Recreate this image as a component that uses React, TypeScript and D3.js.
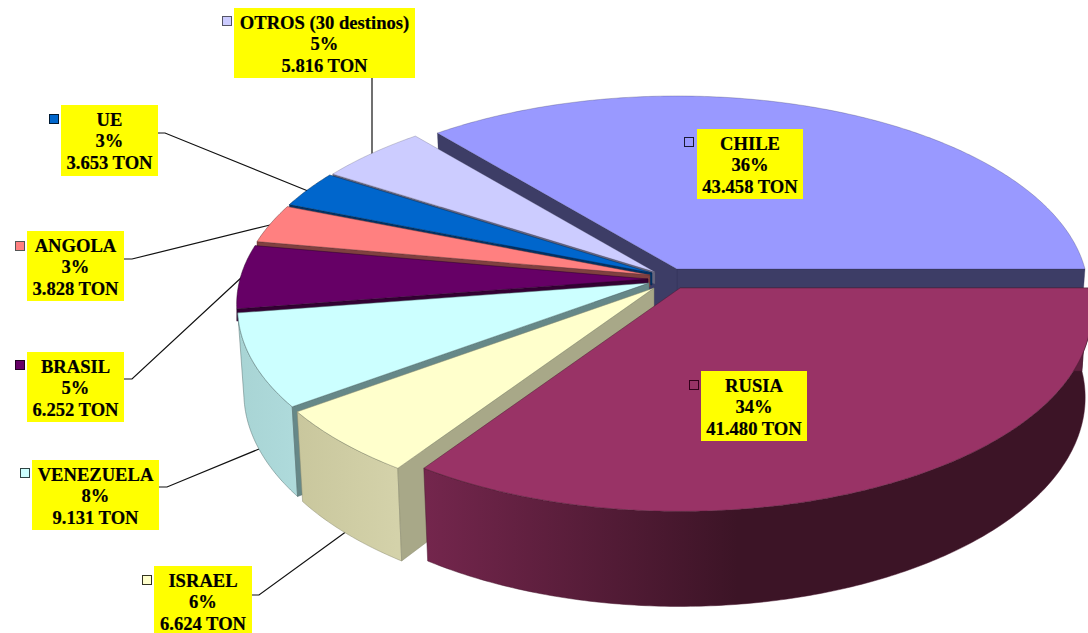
import React from "react";
import * as d3 from "d3";

// ---- data ----
const categories = ["CHILE", "RUSIA", "ISRAEL", "VENEZUELA", "BRASIL", "ANGOLA", "UE", "OTROS (30 destinos)"];
const tons = [43458, 41480, 6624, 9131, 6252, 3828, 3653, 5816];
const tonLabels = ["43.458 TON", "41.480 TON", "6.624 TON", "9.131 TON", "6.252 TON", "3.828 TON", "3.653 TON", "5.816 TON"];
const percentLabels = ["36%", "34%", "6%", "8%", "5%", "3%", "3%", "5%"];
const topColors = ["#9999ff", "#993366", "#ffffcc", "#ccffff", "#660066", "#ff8080", "#0066cc", "#ccccff"];
const edgeColors = ["#3d3d66", "#5c1f3d", "#a8a888", "#668888", "#330033", "#804040", "#003366", "#66667f"];
const wallLeft = ["#3d3d66", "#74264d", "#d4d2aa", "#aedadb", "#330033", "#804040", "#003366", "#66667f"];
const wallRight = ["#3d3d66", "#3c1426", "#c9c79d", "#a8d4d4", "#330033", "#804040", "#003366", "#66667f"];
const keyStroke = ["#1a1a33", "#33001a", "#333322", "#2f4444", "#220022", "#555555", "#001a33", "#555566"];

// ---- layout ----
const W = 1088, H = 633;
const RX = 408, RY = 195, K = 0.127, DEPTH = 83, SHRINK = 0.985;
const apexX = [677, 680, 654, 649, 648, 650, 652, 655];
const apexY = [269, 288, 288, 283, 279, 275, 273, 272];
const wallDepth = [DEPTH, DEPTH, DEPTH, DEPTH, 12, 12, 12, 12];
const boxX = [697, 701, 154, 32, 27, 27, 61, 234];
const boxY = [129, 371, 566, 460, 352, 231, 105, 8];
const boxW = [106, 106, 98, 127, 97, 97, 97, 181];
const boxH = [70, 70, 70, 70, 70, 70, 71, 70];
const keyX = [684, 689, 142, 20, 15, 15, 49, 222];
const keyY = [137, 380, 575, 468, 360, 241, 114, 16];
const hasOuterWall = [false, true, true, true, false, false, false, false];
const leaders: ([number, number][] | null)[] = [
  null,
  null,
  [[252, 595], [259, 595], [347, 531]],
  [[159, 487], [167, 487], [259, 449]],
  [[124, 379], [132, 379], [242, 277]],
  [[124, 259], [132, 259], [270, 225]],
  [[158, 133], [165, 133], [308, 191]],
  [[372, 78], [372, 155]],
];

const pie = d3
  .pie<number>()
  .sort(null)
  .value((d) => d)
  .startAngle(Math.PI / 2 - (2 * Math.PI * tons[0]) / d3.sum(tons))
  .endAngle(Math.PI / 2 + 2 * Math.PI - (2 * Math.PI * tons[0]) / d3.sum(tons));
const arcs = pie(tons);

// perspective projection of a point on the unit disc
const xs = d3.scaleLinear().domain([-1, 1]).range([-RX, RX]);
const ys = d3.scaleLinear().domain([-1, 1]).range([-RY, RY]);
const top = (a: number, i: number): [number, number] => {
  const u = Math.sin(a), v = -Math.cos(a), f = 1 / (1 - K * v);
  return [apexX[i] + xs(u) * f, apexY[i] + ys(v) * f];
};
const bot = (a: number, i: number): [number, number] => {
  const u = Math.sin(a), v = -Math.cos(a), f = 1 / (1 - K * v);
  const s = wallDepth[i] === DEPTH ? SHRINK : 1;
  return [apexX[i] + xs(u) * f * s, apexY[i] + ys(v) * f + wallDepth[i] * f];
};
const line = d3.line<[number, number]>().curve(d3.curveLinear);
const samples = (a0: number, a1: number) => {
  const n = Math.max(2, Math.ceil(Math.abs(a1 - a0) * 90));
  return d3.range(n + 1).map((k) => a0 + ((a1 - a0) * k) / n);
};
const order = [0, 7, 6, 5, 4, 3, 2, 1];

export default function App() {
  return (
    <svg
      width={W}
      height={H}
      viewBox={`0 0 ${W} ${H}`}
      style={{ position: "fixed", left: 0, top: 0, display: "block", background: "#fff" }}
    >
      <defs>
        {arcs.map((d, i) => {
          const pts = samples(d.startAngle, d.endAngle).map((a) => top(a, i)[0]);
          const first = i === 1 ? wallLeft[i] : wallRight[i];
          const last = i === 1 ? wallRight[i] : wallLeft[i];
          return (
            <linearGradient key={i} id={`w${i}`} gradientUnits="userSpaceOnUse" x1={d3.min(pts)} x2={d3.max(pts)} y1={0} y2={0}>
              <stop offset="0" stopColor={first} />
              <stop offset={i === 1 ? 0.47 : 1} stopColor={last} />
            </linearGradient>
          );
        })}
      </defs>
      {leaders.map((l, i) =>
        l ? <path key={i} d={line(l) as string} fill="none" stroke="#111" strokeWidth={1.2} /> : null
      )}
      {order.map((i) => {
        const d = arcs[i];
        const as = samples(d.startAngle, d.endAngle);
        const A: [number, number] = [apexX[i], apexY[i]];
        const Ab: [number, number] = [apexX[i], apexY[i] + wallDepth[i]];
        const topPts = as.map((a) => top(a, i));
        const botPts = as.map((a) => bot(a, i));
        const startWall = [A, topPts[0], botPts[0], Ab] as [number, number][];
        const endWall = [A, topPts[topPts.length - 1], botPts[botPts.length - 1], Ab] as [number, number][];
        const outer = [...topPts, ...botPts.slice().reverse()];
        const edgeStroke = d3.color(edgeColors[i])!.darker(0.6).formatHex();
        return (
          <g key={i} strokeWidth={0.6} strokeLinejoin="round" strokeOpacity={i === 0 || i === 7 ? 0.45 : 0.8}>
            {i === 0 && <path d={(line(endWall) as string) + "Z"} fill={edgeColors[i]} stroke={edgeStroke} />}
            {hasOuterWall[i] && <path d={(line(outer) as string) + "Z"} fill={`url(#w${i})`} stroke={edgeStroke} />}
            <path d={(line(startWall) as string) + "Z"} fill={edgeColors[i]} stroke={edgeStroke} />
            <path d={(line([A, ...topPts]) as string) + "Z"} fill={topColors[i]} stroke={edgeStroke} />
          </g>
        );
      })}
      {categories.map((c, i) => {
        const cx = boxX[i] + boxW[i] / 2;
        const lines = [c, percentLabels[i], tonLabels[i]];
        return (
          <g key={c}>
            <rect x={keyX[i] + 0.5} y={keyY[i] + 0.5} width={9} height={9} fill={topColors[i]} stroke={keyStroke[i]} strokeWidth={1} />
            <rect x={boxX[i]} y={boxY[i]} width={boxW[i]} height={boxH[i]} fill="#ffff00" />
            {lines.map((t, j) => (
              <text
                key={j}
                x={cx}
                y={boxY[i] + 20.5 + j * 21.5}
                textAnchor="middle"
                fontFamily="'Liberation Serif', serif"
                fontWeight="bold"
                fontSize={18.6}
                fill="#000"
                stroke="#000"
                strokeWidth={0.2}
              >
                {t}
              </text>
            ))}
          </g>
        );
      })}
    </svg>
  );
}
